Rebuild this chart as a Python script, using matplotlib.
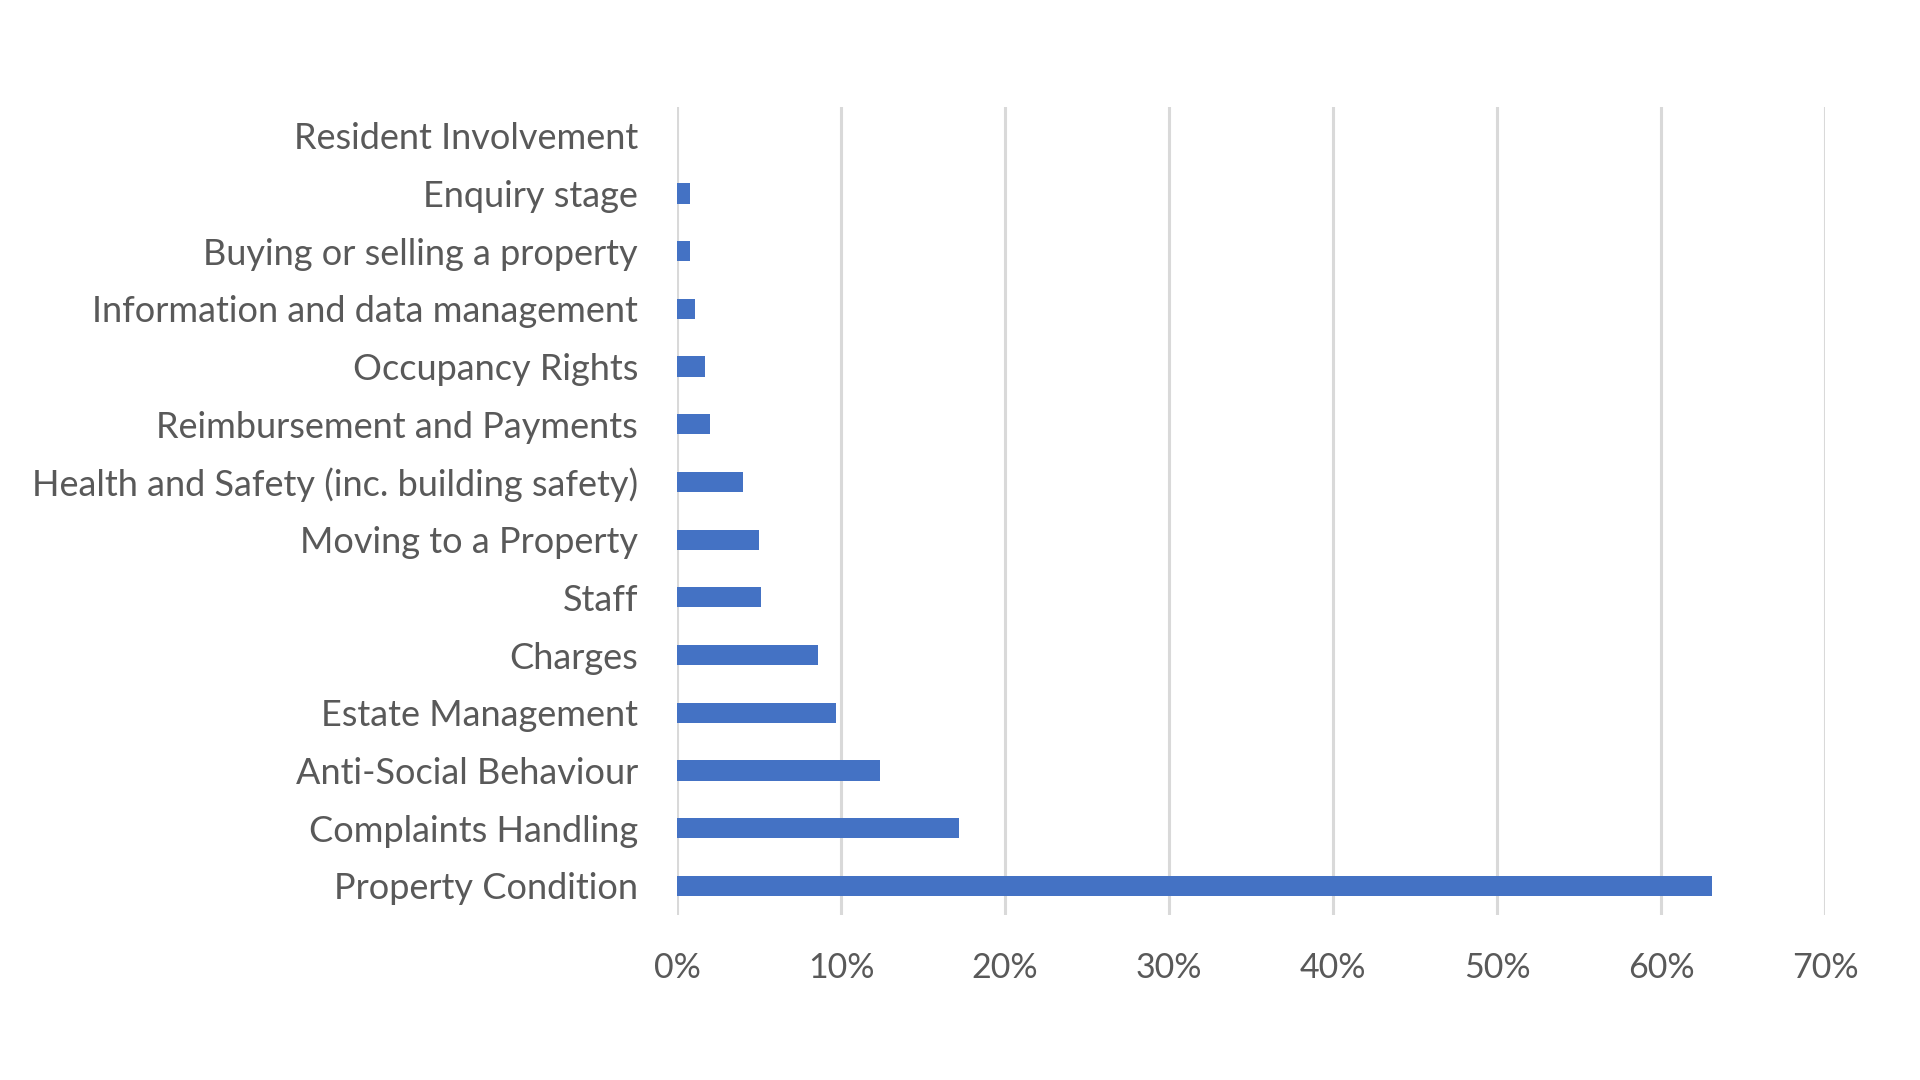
import matplotlib.pyplot as plt
import numpy as np
from matplotlib.ticker import FuncFormatter, MultipleLocator

plt.rcParams["font.family"] = ["Lato", "DejaVu Sans"]

categories = [
    "Property Condition",
    "Complaints Handling",
    "Anti-Social Behaviour",
    "Estate Management",
    "Charges",
    "Staff",
    "Moving to a Property",
    "Health and Safety (inc. building safety)",
    "Reimbursement and Payments",
    "Occupancy Rights",
    "Information and data management",
    "Buying or selling a property",
    "Enquiry stage",
    "Resident Involvement",
]
shares = [0.631, 0.172, 0.124, 0.097, 0.086, 0.051, 0.050, 0.040,
          0.020, 0.017, 0.011, 0.008, 0.008, 0.0]

BAR = "#4472C4"
TEXT = "#595959"
GRID = "#D9D9D9"

fig = plt.figure(figsize=(19.2, 10.8), dpi=100)
ax = fig.add_axes([0.3526, 0.153, 0.598, 0.748])

y = np.arange(len(categories))
ax.barh(y, shares, height=0.35, color=BAR, zorder=3)

ax.set_xlim(0, 0.70)
ax.set_ylim(-0.5, len(categories) - 0.5)
ax.xaxis.set_major_locator(MultipleLocator(0.10))
ax.xaxis.set_major_formatter(FuncFormatter(lambda v, _: f"{v * 100:.0f}%"))
ax.set_yticks(y)
ax.set_yticklabels(categories)

ax.grid(axis="x", color=GRID, linewidth=2.2, zorder=0)
ax.set_axisbelow(True)
for spine in ax.spines.values():
    spine.set_visible(False)

ax.tick_params(axis="x", length=0, pad=27, labelsize=24.5, labelcolor=TEXT)
ax.tick_params(axis="y", length=0, pad=28, labelsize=26, labelcolor=TEXT)

fig.savefig("out.png", dpi=100, facecolor="white")
